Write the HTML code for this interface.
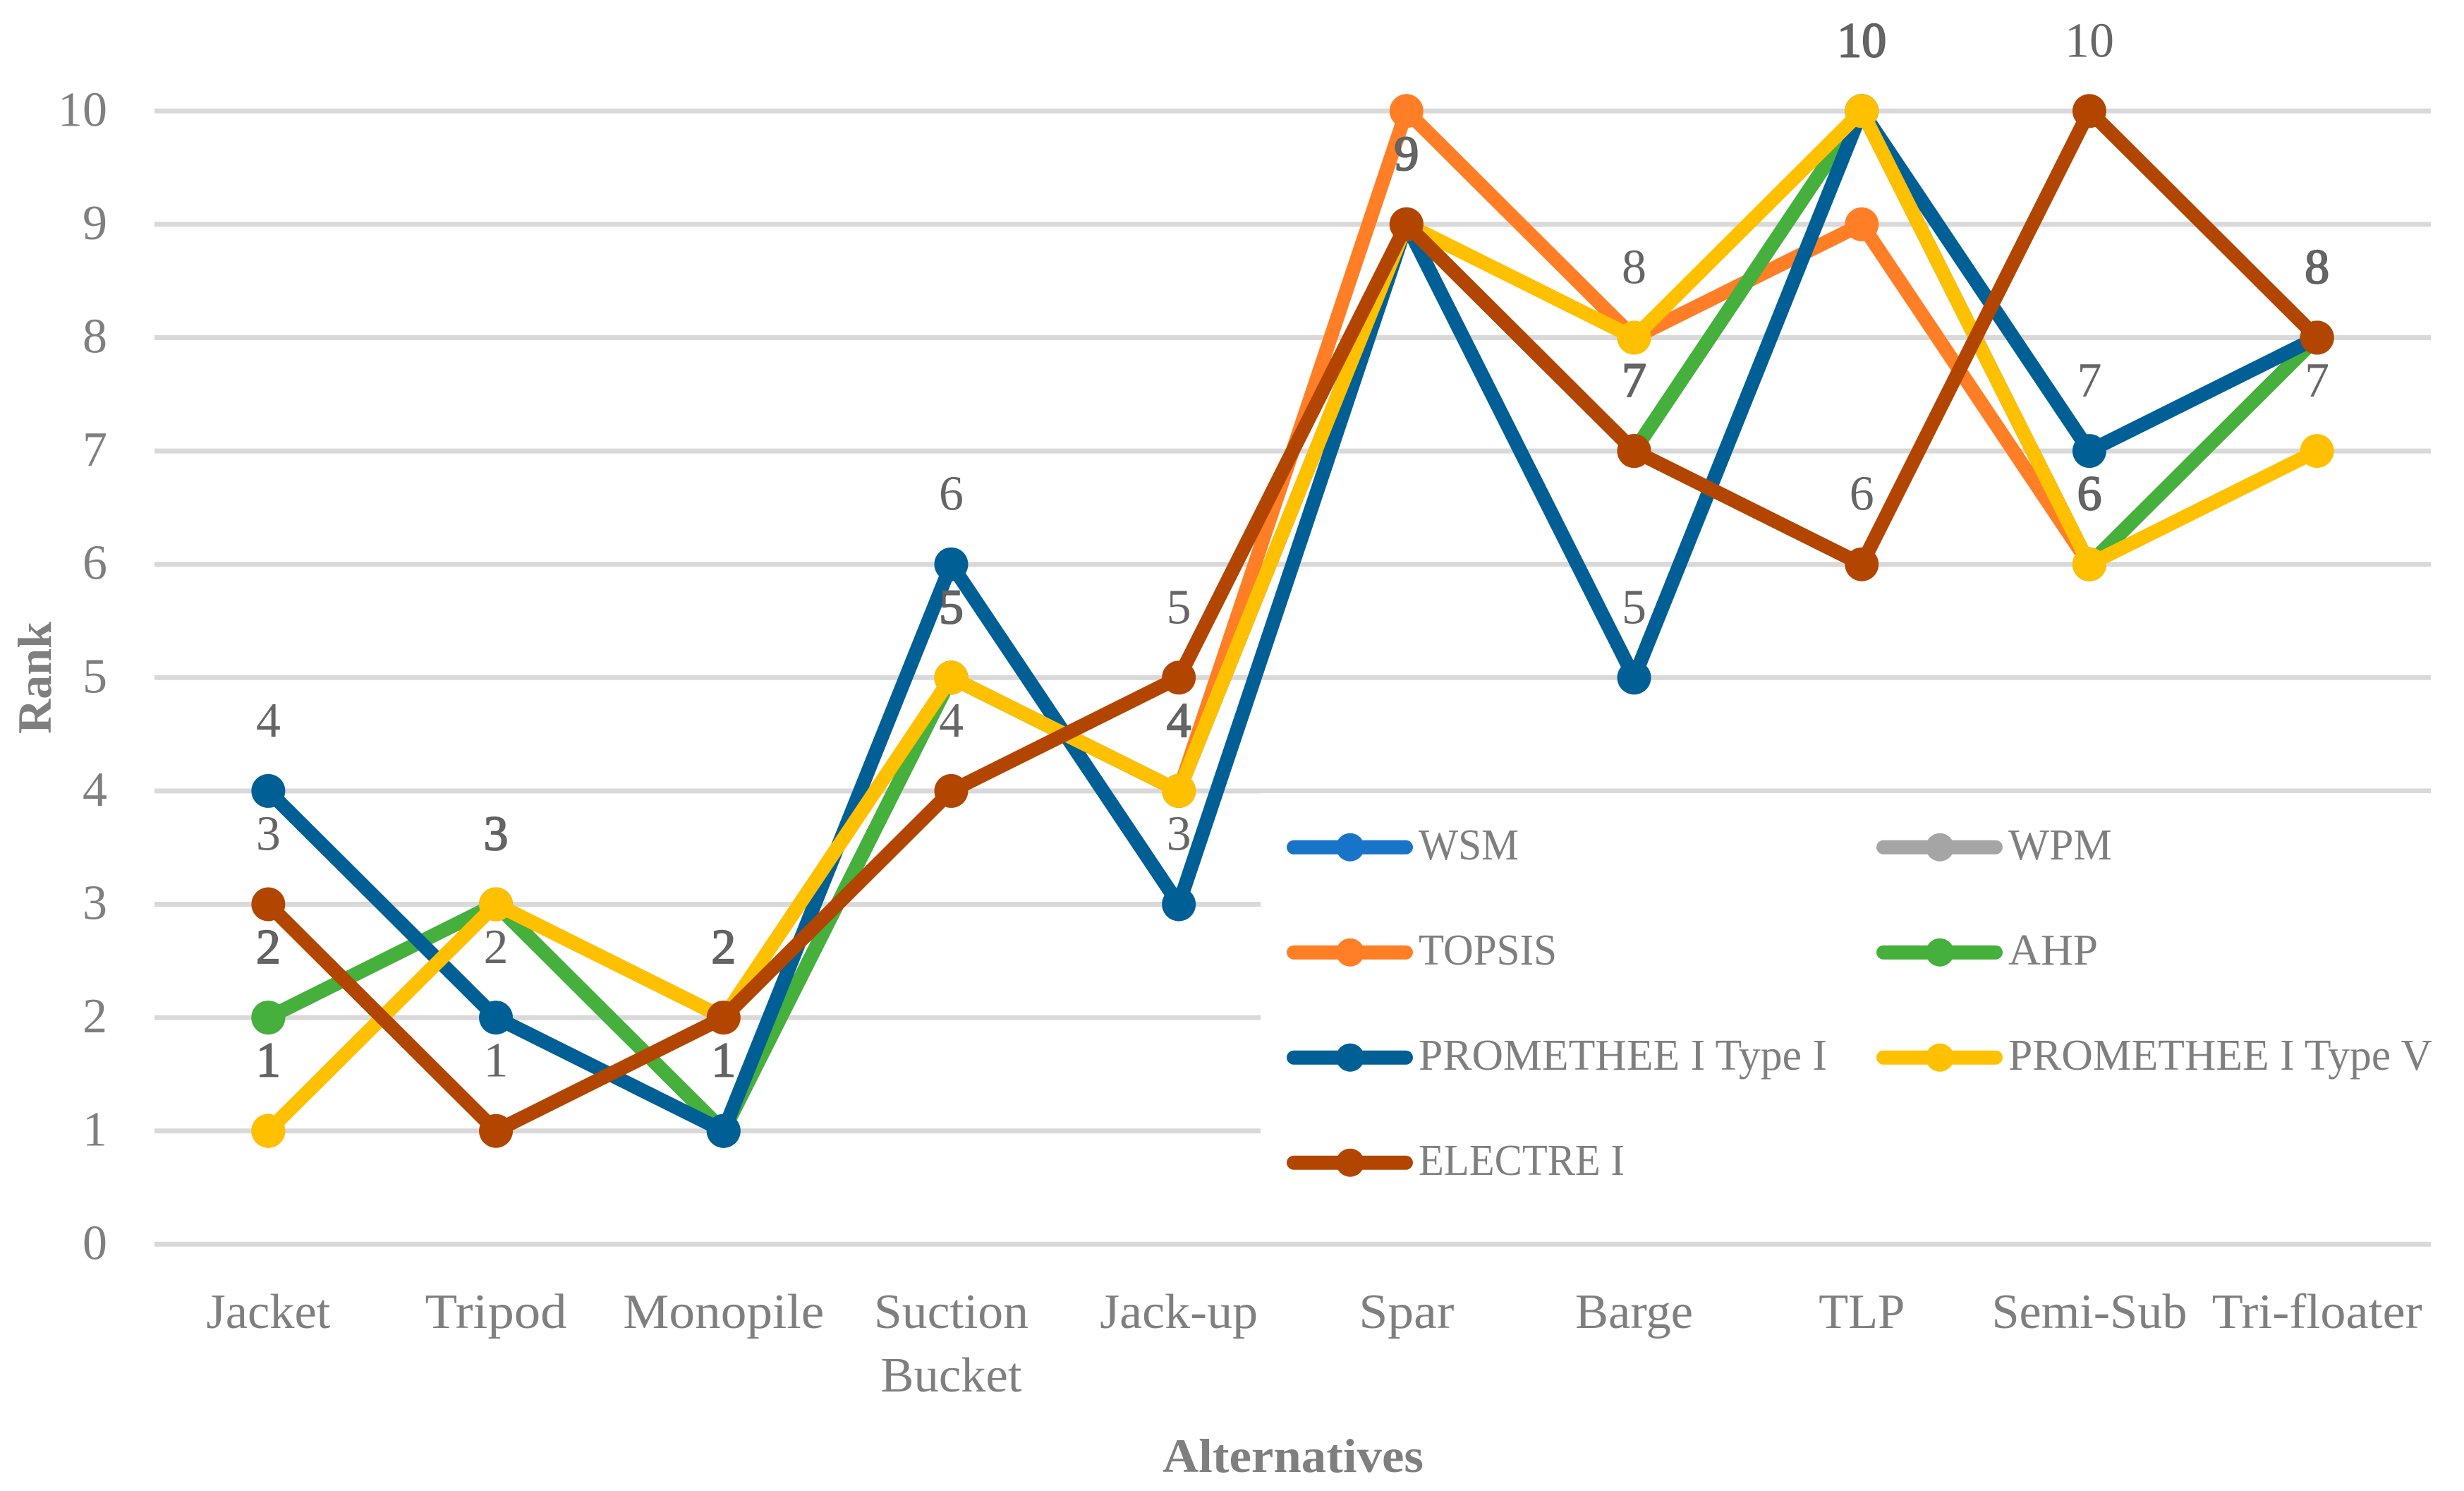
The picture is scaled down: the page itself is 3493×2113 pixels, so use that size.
<!DOCTYPE html>
<html lang="en">
<head>
<meta charset="utf-8">
<title>Rank of alternatives by MCDM method</title>
<style>
html,body{margin:0;padding:0;background:#fff;}
svg{display:block;}
text{font-family:"Liberation Serif",serif;}
</style>
</head>
<body>
<svg id="chart" xmlns="http://www.w3.org/2000/svg" width="3493" height="2113" viewBox="0 0 3493 2113"></svg>
<script>
const categories = ["Jacket", "Tripod", "Monopile", "Suction\nBucket", "Jack-up", "Spar", "Barge", "TLP", "Semi-Sub", "Tri-floater"];
const yTicks = [0, 1, 2, 3, 4, 5, 6, 7, 8, 9, 10];
const seriesNames = ["WSM", "WPM", "TOPSIS", "AHP", "PROMETHEE I Type I", "PROMETHEE I Type V", "ELECTRE I"];
const wsmValues = [2, 3, 1, 5, 4, 9, 7, 10, 6, 8];
const wpmValues = [2, 3, 1, 5, 4, 9, 7, 10, 6, 8];
const topsisValues = [1, 3, 2, 5, 4, 10, 8, 9, 6, 8];
const ahpValues = [2, 3, 1, 5, 4, 9, 7, 10, 6, 8];
const prometheeOneValues = [4, 2, 1, 6, 3, 9, 5, 10, 7, 8];
const prometheeFiveValues = [1, 3, 2, 5, 4, 9, 8, 10, 6, 7];
const electreValues = [3, 1, 2, 4, 5, 9, 7, 6, 10, 8];

const NS = "http://www.w3.org/2000/svg";
const svg = document.getElementById("chart");
const plotLeft = 219, plotRight = 3446, yZero = 1763.3, unit = 160.6;
const band = (plotRight - plotLeft) / categories.length;
const xScale = i => plotLeft + band * (i + 0.5);
const yScale = v => yZero - unit * v;

const seriesStyle = [
  { color: "#1874c9", values: wsmValues, labelled: false },
  { color: "#a5a5a5", values: wpmValues, labelled: false },
  { color: "#ff7e26", values: topsisValues, labelled: false },
  { color: "#45b03b", values: ahpValues, labelled: true },
  { color: "#005f95", values: prometheeOneValues, labelled: true },
  { color: "#ffc000", values: prometheeFiveValues, labelled: true },
  { color: "#b24600", values: electreValues, labelled: true }
];
const textFit = {
  "Jacket": 176, "Tripod": 201, "Monopile": 285, "Suction": 219, "Bucket": 200, "Jack-up": 224,
  "Spar": 135, "Barge": 167, "TLP": 122, "Semi-Sub": 277, "Tri-floater": 298,
  "WSM": 142, "WPM": 147, "TOPSIS": 196, "AHP": 127,
  "PROMETHEE I Type I": 579, "PROMETHEE I Type V": 601, "ELECTRE I": 292
};

function make(tag, attrs, parent, content) {
  const el = document.createElementNS(NS, tag);
  for (const k in attrs) el.setAttribute(k, attrs[k]);
  if (content !== undefined) el.textContent = content;
  (parent || svg).appendChild(el);
  return el;
}

const bg = make("rect", { x: 0, y: 0, width: 3493, height: 2113, fill: "#fff" });



yTicks.forEach(t => {
  const grid = make("line", { x1: plotLeft, x2: plotRight, y1: yScale(t), y2: yScale(t), stroke: "#d9d9d9", "stroke-width": 7 });
  
  
  const tick = make("text", { x: 152, y: yScale(t) + 21, "text-anchor": "end", "font-size": 70, fill: "#7f7f7f" }, svg, String(t));
  
  
});

categories.forEach((c, i) => {
  c.split("\n").forEach((line, n) => {
    const label = make("text", {
      x: xScale(i), y: 1882 + n * 90, "text-anchor": "middle", "font-size": 70, fill: "#7f7f7f",
      textLength: textFit[line], lengthAdjust: "spacingAndGlyphs"
    }, svg, line);
    
    
  });
});

const xTitle = make("text", { x: 1833, y: 2086, "text-anchor": "middle", "font-size": 68, "font-weight": "bold", fill: "#7f7f7f", textLength: 370, lengthAdjust: "spacingAndGlyphs" }, svg, "Alternatives");


const yTitle = make("text", { transform: "translate(72 960.5) rotate(-90)", "text-anchor": "middle", "font-size": 68, "font-weight": "bold", fill: "#7f7f7f", textLength: 159, lengthAdjust: "spacingAndGlyphs" }, svg, "Rank");



const legendBox = make("rect", { x: 1787, y: 1124, width: 1706, height: 612, fill: "#fff" });



seriesStyle.forEach((s, si) => {
  const group = make("g", {});
  
  
  const points = s.values.map((v, i) => xScale(i) + "," + yScale(v)).join(" ");
  const path = make("polyline", { points: points, fill: "none", stroke: s.color, "stroke-width": 20, "stroke-linejoin": "round", "stroke-linecap": "round" }, group);
  
  
  s.values.forEach((v, i) => {
    const dot = make("circle", { cx: xScale(i), cy: yScale(v), r: 24, fill: s.color }, group);
    
    
  });
});

const drawnLabels = {};
function dataLabel(i, v) {
  const key = i + ":" + v;
  const repeated = drawnLabels[key] === true;
  drawnLabels[key] = true;
  const attrs = { x: xScale(i), y: yScale(v) - 77, "text-anchor": "middle", "font-size": 70, fill: "#666666" };
  if (repeated) {
    attrs.stroke = "#5f5f5f";
    attrs["stroke-width"] = 1.8;
  }
  const label = make("text", attrs, svg, String(v));
  
  
}
seriesStyle.forEach(s => {
  if (s.labelled) s.values.forEach((v, i) => dataLabel(i, v));
});
// The two Jacket labels that print darker in the reference come from hidden series.
dataLabel(0, wsmValues[0]);
dataLabel(0, topsisValues[0]);

const legendRows = [1200.7, 1349.7, 1498.7, 1647.7];
const legendCols = [1824, 2660];
seriesNames.forEach((name, si) => {
  const col = legendCols[si % 2];
  const row = legendRows[Math.floor(si / 2)];
  const color = seriesStyle[si].color;
  const entry = make("g", {});
  
  
  make("line", { x1: col + 10, x2: col + 169, y1: row, y2: row, stroke: color, "stroke-width": 20, "stroke-linecap": "round" }, entry);
  make("circle", { cx: col + 90, cy: row, r: 20, fill: color }, entry);
  make("text", { x: col + 187, y: row + 17.5, "font-size": 62, fill: "#7f7f7f", textLength: textFit[name], lengthAdjust: "spacingAndGlyphs" }, entry, name);
});
</script>
</body>
</html>
